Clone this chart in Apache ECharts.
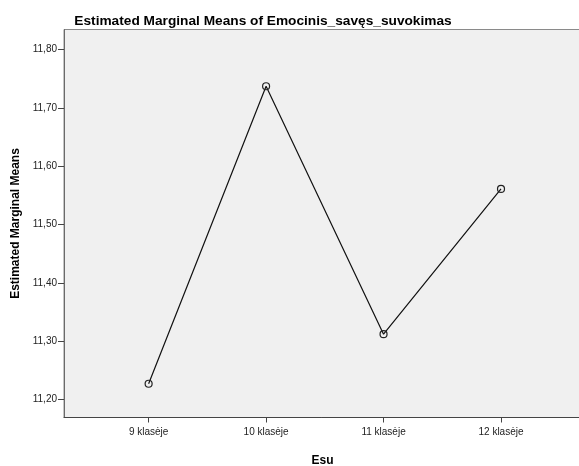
<!DOCTYPE html>
<html><head><meta charset="utf-8">
<script src="https://cdn.jsdelivr.net/npm/echarts@6/dist/echarts.min.js"></script>
<style>html,body{margin:0;padding:0;background:#fff}#c{width:579px;height:466px}</style>
</head><body><div id="c"></div>
<script>
const categories = ['9 klasėje', '10 klasėje', '11 klasėje', '12 klasėje'];
const means = [11.227, 11.737, 11.312, 11.561];
const yTicks = [11.2, 11.3, 11.4, 11.5, 11.6, 11.7, 11.8];

const chart = echarts.init(document.getElementById('c'));
const F = 'Liberation Sans, Arial, sans-serif';
chart.setOption({
  animation: false,
  backgroundColor: '#ffffff',
  title: {
    text: 'Estimated Marginal Means of Emocinis_savęs_suvokimas',
    left: 258, textAlign: 'center', top: 9,
    textStyle: { fontFamily: F, fontSize: 13.7, fontWeight: 'bold', color: '#000' }
  },
  grid: {
    left: 64, right: -2, top: 29.5, height: 388,
    outerBoundsMode: 'none', containLabel: false,
    show: true, backgroundColor: '#f0f0f0', borderColor: '#8a8a8a', borderWidth: 1
  },
  xAxis: {
    type: 'value', min: -0.7205, max: 3.681,
    name: 'Esu', nameLocation: 'middle', nameGap: 37,
    nameTextStyle: { fontFamily: F, fontSize: 12, fontWeight: 'bold', color: '#000' },
    splitLine: { show: false },
    axisLine: { onZero: false, lineStyle: { color: '#444', width: 1 } },
    axisTick: { customValues: [0, 1, 2, 3], length: 5, lineStyle: { color: '#444' } },
    axisLabel: {
      customValues: [0, 1, 2, 3],
      formatter: v => categories[Math.round(v)],
      fontFamily: F, fontSize: 10, color: '#222', margin: 10
    }
  },
  yAxis: {
    type: 'value', min: 11.1691, max: 11.8343,
    name: 'Estimated Marginal Means', nameLocation: 'middle', nameGap: 40, nameRotate: 90,
    nameTextStyle: { fontFamily: F, fontSize: 12, fontWeight: 'bold', color: '#000' },
    splitLine: { show: false },
    axisLine: { show: true, onZero: false, lineStyle: { color: '#6a6a6a', width: 1 } },
    axisTick: { customValues: yTicks, length: 6, lineStyle: { color: '#444' } },
    axisLabel: {
      customValues: yTicks,
      formatter: v => v.toFixed(2).replace('.', ','),
      fontFamily: F, fontSize: 10, color: '#222', margin: 7
    }
  },
  series: [{
    type: 'line',
    data: means.map((v, i) => [i, v]),
    lineStyle: { color: '#111', width: 1.2 },
    symbol: 'circle', symbolSize: 7,
    itemStyle: { color: 'rgba(0,0,0,0)', borderColor: '#222', borderWidth: 1.2 }
  }]
});
</script></body></html>
